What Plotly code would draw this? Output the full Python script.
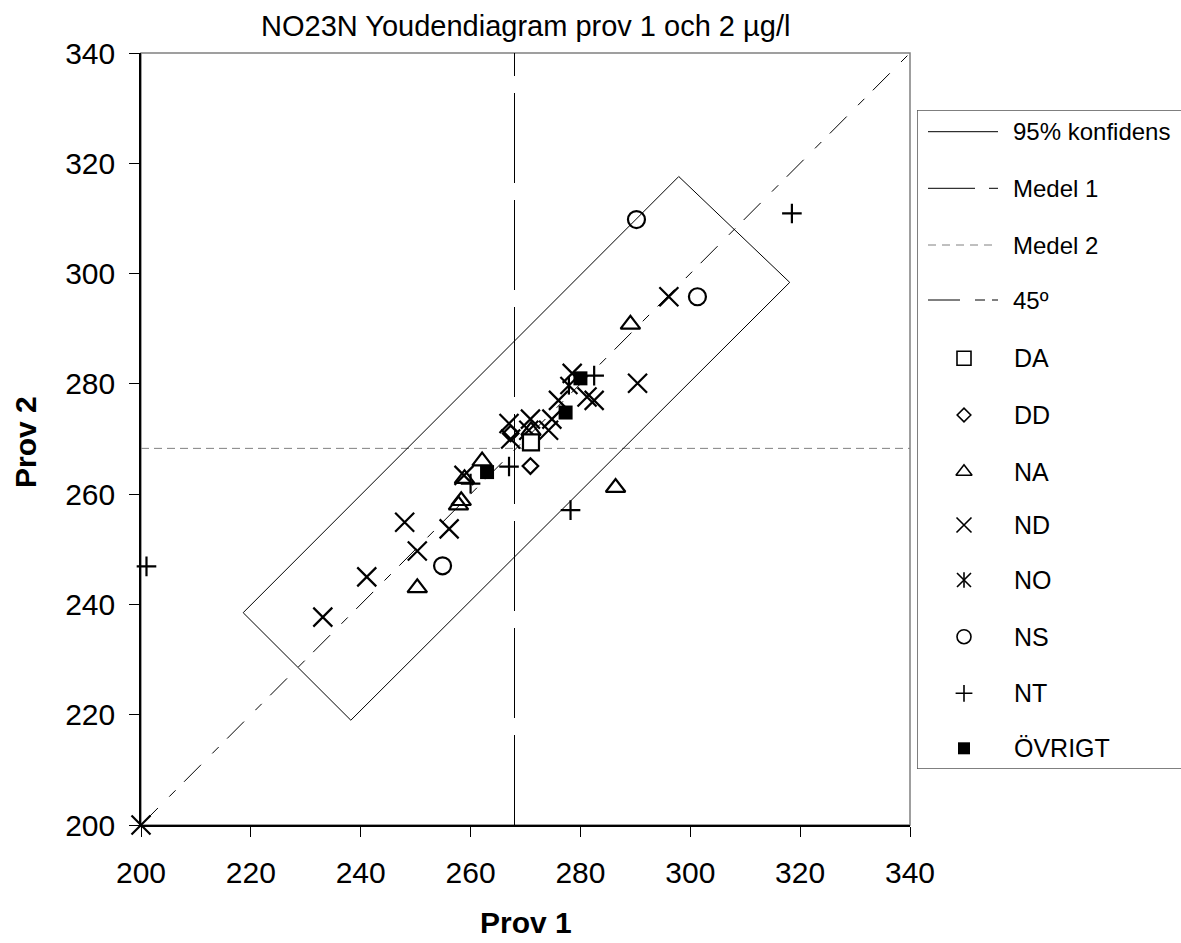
import plotly.graph_objects as go

# ---- data: (Prov 1, Prov 2) results per method group ----
da_x = [271.0]
da_y = [269.4]
dd_x = [270.9, 267.3]
dd_y = [265.1, 271.0]
na_x = [289.1, 286.4, 250.3, 257.8, 258.3, 258.9, 262.1, 271.0]
na_y = [290.8, 261.2, 243.0, 258.0, 258.8, 262.8, 266.0, 271.5]
nd_x = [200.0, 233.1, 241.1, 248.0, 250.3, 256.1, 258.8, 267.0, 267.3, 270.9,
        270.6, 274.2, 274.8, 276.0, 281.2, 282.5, 278.5, 290.4, 296.1]
nd_y = [200.0, 237.7, 245.0, 254.9, 249.7, 253.7, 263.4, 272.8, 270.0, 273.6,
        271.6, 271.6, 273.6, 277.0, 277.6, 277.0, 281.9, 280.1, 295.8]
no_x = [277.9]
no_y = [279.7]
ns_x = [290.2, 301.3, 254.9]
ns_y = [309.8, 295.8, 247.0]
nt_x = [201.0, 318.5, 278.2, 267.0, 260.0, 282.5]
nt_y = [246.9, 310.9, 257.1, 265.0, 261.9, 281.5]
ovr_x = [263.0, 277.3, 280.0]
ovr_y = [264.0, 274.8, 281.0]

# means and 95 % confidence rectangle corners
medel1 = 268.0
medel2 = 268.3
conf_x = [218.6, 238.2, 318.1, 297.9, 218.6]
conf_y = [238.5, 219.0, 298.4, 317.6, 238.5]

axis_min, axis_max = 200, 340
ticks = [200, 220, 240, 260, 280, 300, 320, 340]

legend_lines = ["95% konfidens", "Medel 1", "Medel 2", "45º"]
legend_marks = ["DA", "DD", "NA", "ND", "NO", "NS", "NT", "ÖVRIGT"]

FONT = "Liberation Sans, Arial, sans-serif"
W, H = 1181, 943
L, T, B = 141, 53, 118
plot_w = W - L
plot_h = H - T - B
main_right = 910
x_dom = (main_right - L) / plot_w

fig = go.Figure()

blk = "#000000"
dash45 = "24px,16px,9px,12px"
dash_m1 = "90px,17px"
dash_m2 = "8px,5px"
gray = "#808080"

# reference lines
fig.add_trace(go.Scatter(x=[axis_min, axis_max], y=[axis_min, axis_max], mode="lines",
                         line=dict(color=blk, width=1, dash=dash45), hoverinfo="skip"))
fig.add_trace(go.Scatter(x=[medel1, medel1], y=[axis_min, axis_max], mode="lines",
                         line=dict(color=blk, width=1, dash=dash_m1), hoverinfo="skip"))
fig.add_trace(go.Scatter(x=[axis_min, axis_max], y=[medel2, medel2], mode="lines",
                         line=dict(color=gray, width=1, dash=dash_m2), hoverinfo="skip"))
fig.add_trace(go.Scatter(x=conf_x, y=conf_y, mode="lines",
                         line=dict(color=blk, width=1), hoverinfo="skip"))


def mk(symbol, size, width=2.2):
    return dict(symbol=symbol, size=size, color=blk, line=dict(color=blk, width=width))


series = [
    (na_x, na_y, mk("triangle-up-open", 17)),
    (nd_x, nd_y, mk("x-thin-open", 19)),
    (no_x, no_y, mk("x-thin-open", 17)),
    (no_x, no_y, mk("line-ns-open", 13)),
    (ns_x, ns_y, mk("circle-open", 17)),
    (nt_x, nt_y, mk("cross-thin-open", 14)),
    (dd_x, dd_y, mk("diamond-open", 12)),
    (da_x, da_y, dict(symbol="square", size=16, color="white", line=dict(color=blk, width=2.2))),
    (ovr_x, ovr_y, mk("square", 14, 0)),
]
for sx, sy, m in series:
    fig.add_trace(go.Scatter(x=sx, y=sy, mode="markers", marker=m, hoverinfo="skip",
                             cliponaxis=False))

# ---- legend panel drawn on its own pixel-scaled axes ----
LX0, LY0, LY1 = 917, 110, 769
lx_dom0 = (LX0 - L) / plot_w
ly_dom = [(H - B - LY1) / plot_h, (H - B - LY0) / plot_h]

row_y = [131.7, 188.3, 245.0, 300.0, 358.3, 415.0, 471.7, 525.0, 580.0, 636.7, 693.3, 748.3]
line_styles = [(blk, None), (blk, "47px,14px,9px,14px"), (gray, "8px,6px"),
               (blk, "32px,15px,10px,7px")]
for (c, d), yy in zip(line_styles, row_y[:4]):
    fig.add_trace(go.Scatter(x=[928, 998], y=[yy, yy], mode="lines", xaxis="x2", yaxis="y2",
                             line=dict(color=c, width=1, dash=d), hoverinfo="skip"))

leg_markers = [
    [mk("square-open", 14, 1.6)],
    [mk("diamond-open", 10.5, 1.6)],
    [mk("triangle-up-open", 14, 1.6)],
    [mk("x-thin-open", 15, 1.6)],
    [mk("x-thin-open", 14, 1.6), mk("line-ns-open", 11, 1.6)],
    [mk("circle-open", 14, 1.6)],
    [mk("cross-thin-open", 12, 1.6)],
    [mk("square", 12, 0)],
]
for ms, yy in zip(leg_markers, row_y[4:]):
    for m in ms:
        fig.add_trace(go.Scatter(x=[964], y=[yy], mode="markers", marker=m, xaxis="x2",
                                 yaxis="y2", hoverinfo="skip"))

annotations = []
for name, yy in zip(legend_lines + legend_marks, row_y):
    xx = 1011 if name in legend_lines else 1012
    annotations.append(dict(x=xx, y=yy, xref="x2", yref="y2", text=name, showarrow=False,
                            xanchor="left", yanchor="middle",
                            font=dict(family=FONT, size=24 if name in legend_lines else 25,
                                      color=blk)))

# titles
annotations.append(dict(x=x_dom / 2, y=(H - B - 26) / plot_h, xref="paper", yref="paper",
                        text="NO23N Youdendiagram prov 1 och 2 µg/l", showarrow=False,
                        xanchor="center", yanchor="middle",
                        font=dict(family=FONT, size=29, color=blk)))
annotations.append(dict(x=x_dom / 2, y=(H - B - 922) / plot_h, xref="paper", yref="paper",
                        text="<b>Prov 1</b>", showarrow=False, xanchor="center",
                        yanchor="middle", font=dict(family=FONT, size=30, color=blk)))
annotations.append(dict(x=(25 - L) / plot_w, y=(H - B - 442) / plot_h, xref="paper",
                        yref="paper", text="<b>Prov 2</b>", showarrow=False, textangle=-90,
                        xanchor="center", yanchor="middle",
                        font=dict(family=FONT, size=30, color=blk)))

shapes = [
    # plot-area frame
    dict(type="rect", xref="paper", yref="paper", x0=0, x1=x_dom, y0=0, y1=1,
         line=dict(color=gray, width=1.5), layer="below"),
    # legend box (open to the right edge)
    dict(type="line", xref="x2", yref="y2", x0=LX0, x1=W, y0=LY0, y1=LY0,
         line=dict(color=blk, width=1)),
    dict(type="line", xref="x2", yref="y2", x0=LX0, x1=W, y0=LY1, y1=LY1,
         line=dict(color=blk, width=1)),
    dict(type="line", xref="x2", yref="y2", x0=LX0, x1=LX0, y0=LY0, y1=LY1,
         line=dict(color="#555555", width=1.5)),
]

axis_common = dict(range=[axis_min, axis_max], tickvals=ticks, ticks="outside", ticklen=10,
                   tickcolor=blk, tickwidth=1, showline=True, linecolor=blk, linewidth=1.5,
                   showgrid=False, zeroline=False, automargin=False,
                   tickfont=dict(family=FONT, size=30, color=blk))

fig.update_layout(
    template="none",
    width=W, height=H, autosize=False,
    margin=dict(l=L, r=0, t=T, b=B, pad=0, autoexpand=False),
    paper_bgcolor="white", plot_bgcolor="white",
    showlegend=False,
    xaxis=dict(domain=[0, x_dom], ticklabelstandoff=10, **axis_common),
    yaxis=dict(domain=[0, 1], ticklabelstandoff=8, **axis_common),
    xaxis2=dict(domain=[lx_dom0, 1], range=[LX0, W], visible=False, anchor="y2",
                automargin=False),
    yaxis2=dict(domain=ly_dom, range=[LY1, LY0], visible=False, anchor="x2",
                automargin=False),
    annotations=annotations,
    shapes=shapes,
)

fig.write_html("out.html")
